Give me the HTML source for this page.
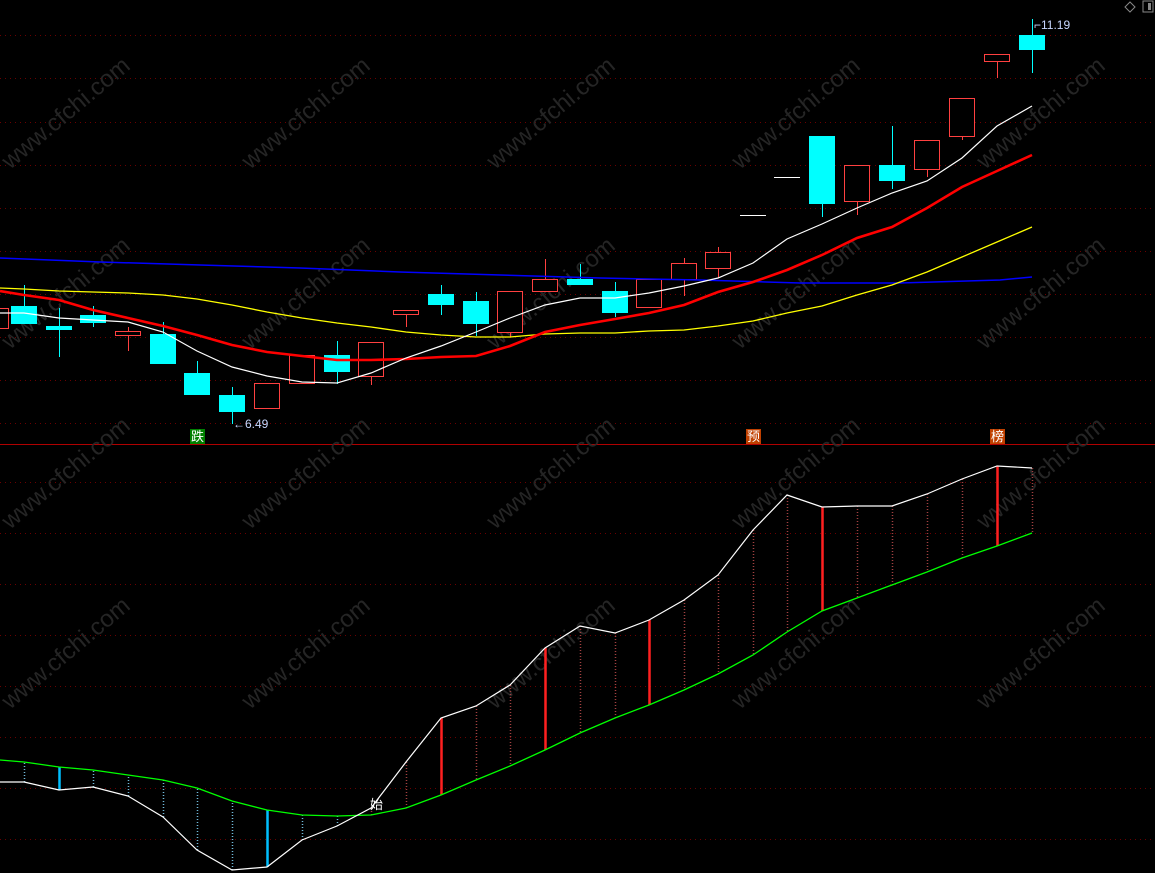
<!DOCTYPE html>
<html><head><meta charset="utf-8"><style>
html,body{margin:0;padding:0;background:#000;width:1155px;height:873px;overflow:hidden}
svg{display:block}
text{font-family:"Liberation Sans","Noto Sans CJK SC",sans-serif}
</style></head><body>
<svg id="s" width="1155" height="873" viewBox="0 0 1155 873" xmlns="http://www.w3.org/2000/svg">
<g id="grid"></g>
<g fill="#2a2a2a" font-size="24" opacity="0.9">
<text transform="translate(10,170) rotate(-40)">www.cfchi.com</text>
<text transform="translate(250,170) rotate(-40)">www.cfchi.com</text>
<text transform="translate(495,170) rotate(-40)">www.cfchi.com</text>
<text transform="translate(740,170) rotate(-40)">www.cfchi.com</text>
<text transform="translate(985,170) rotate(-40)">www.cfchi.com</text>
<text transform="translate(10,350) rotate(-40)">www.cfchi.com</text>
<text transform="translate(250,350) rotate(-40)">www.cfchi.com</text>
<text transform="translate(495,350) rotate(-40)">www.cfchi.com</text>
<text transform="translate(740,350) rotate(-40)">www.cfchi.com</text>
<text transform="translate(985,350) rotate(-40)">www.cfchi.com</text>
<text transform="translate(10,530) rotate(-40)">www.cfchi.com</text>
<text transform="translate(250,530) rotate(-40)">www.cfchi.com</text>
<text transform="translate(495,530) rotate(-40)">www.cfchi.com</text>
<text transform="translate(740,530) rotate(-40)">www.cfchi.com</text>
<text transform="translate(985,530) rotate(-40)">www.cfchi.com</text>
<text transform="translate(10,710) rotate(-40)">www.cfchi.com</text>
<text transform="translate(250,710) rotate(-40)">www.cfchi.com</text>
<text transform="translate(495,710) rotate(-40)">www.cfchi.com</text>
<text transform="translate(740,710) rotate(-40)">www.cfchi.com</text>
<text transform="translate(985,710) rotate(-40)">www.cfchi.com</text>
</g>
<g id="main"></g>
<rect x="190" y="429" width="15" height="15" fill="#008000"/>
<text x="197.5" y="441" fill="#fff" font-size="13" text-anchor="middle">跌</text>
<rect x="746" y="429" width="15" height="15" fill="#c04000"/>
<text x="753.5" y="441" fill="#fff" font-size="13" text-anchor="middle">预</text>
<rect x="990" y="429" width="15" height="15" fill="#c04000"/>
<text x="997.5" y="441" fill="#fff" font-size="13" text-anchor="middle">榜</text>
<text x="370" y="809" fill="#fff" font-size="13">始</text>
<text x="233" y="428" fill="#c8d8ff" font-size="12">←6.49</text>
<text x="1034" y="29" fill="#c8d8ff" font-size="12">⌐11.19</text>
<path d="M1130 2 L1135 7 L1130 12 L1125 7Z" fill="none" stroke="#888"/>
<rect x="1143" y="1" width="10" height="11" fill="none" stroke="#888"/>
<rect x="1148" y="3" width="3" height="7" fill="#888"/>
</svg>
<script>
var NS="http://www.w3.org/2000/svg";
function el(p,t,a){var e=document.createElementNS(NS,t);for(var k in a)e.setAttribute(k,a[k]);p.appendChild(e);return e;}
var g=document.getElementById('grid'),m=document.getElementById('main');
[35,78,122,165,208,251,294,337,380,423,482,533,584,635,686,737,788,839].forEach(function(y){
el(g,'line',{x1:0,x2:1155,y1:y+.5,y2:y+.5,stroke:'#6a0000','stroke-dasharray':'1,4'});});
el(g,'line',{x1:0,x2:1155,y1:444.5,y2:444.5,stroke:'#b00000'});
// candles [cx, type(c=cyan,r=red,w=doji), top, bottom, wickTop, wickBot]
var C=[[-4,'r',308,328,308,328],[24,'c',306,324,285,306],[59,'c',326,330,308,357],[93,'c',315,323,306,327],[128,'r',331,335,327,351],
[163,'c',334,364,322,364],[197,'c',373,395,361,395],[232,'c',395,412,387,424],[267,'r',383,408,383,408],[302,'r',355,383,355,383],
[337,'c',355,372,341,384],[371,'r',342,376,342,385],[406,'r',310,314,310,327],[441,'c',294,305,285,315],[476,'c',301,324,292,336],
[510,'r',291,332,291,337],[545,'r',279,291,259,291],[580,'c',279,285,264,285],[615,'c',291,313,282,317],[649,'r',279,307,279,307],
[684,'r',263,279,258,296],[718,'r',252,268,247,278],[753,'w',215,215,215,215],[787,'w',177,177,177,177],[822,'c',136,204,136,217],
[857,'r',165,201,165,215],[892,'c',165,181,126,189],[927,'r',140,169,140,177],[962,'r',98,136,98,140],[997,'r',54,61,54,78],[1032,'c',35,50,19,73]];
C.forEach(function(c){var x=c[0],w=13;
if(c[1]=='c'){el(m,'line',{x1:x+.5,x2:x+.5,y1:c[4],y2:c[5],stroke:'#0ff'});el(m,'rect',{x:x-w,y:c[2],width:2*w,height:Math.max(c[3]-c[2],2),fill:'#0ff'});}
else if(c[1]=='r'){el(m,'line',{x1:x+.5,x2:x+.5,y1:c[4],y2:c[5],stroke:'#ff4040'});el(m,'rect',{x:x-w+.5,y:c[2]+.5,width:2*w-1,height:c[3]-c[2],fill:'#000',stroke:'#ff4040'});}
else el(m,'line',{x1:x-w,x2:x+w,y1:c[2]+.5,y2:c[2]+.5,stroke:'#fff'});});
var xs=[0,24,59,93,128,163,197,232,267,302,337,371,406,441,476,510,545,580,615,649,684,718,753,787,822,857,892,927,962,997,1032];
function pl(ys,col,w){el(m,'polyline',{points:xs.map(function(x,i){return x+','+ys[i]}).join(' '),fill:'none',stroke:col,'stroke-width':w});}
el(m,'polyline',{points:'0,258 100,262 200,265 300,268 400,272 500,275 600,278 700,280 800,283 900,283 1000,280 1032,277',fill:'none',stroke:'#0000ff','stroke-width':1.5});
pl([288,289,291,292,293,295,299,305,312,318,323,327,332,335,337,337,334,333,333,331,330,326,321,313,306,295,285,272,257,242,227],'#ffff00',1.3);
pl([291,295,300,310,318,326,335,345,352,356,360,360,359,357,356,346,332,325,319,313,305,292,282,270,255,238,227,208,187,171,155],'#ff0000',2.6);
pl([313,313,318,320,322,332,351,367,376,382,383,373,358,346,332,318,305,298,298,293,286,278,263,239,224,208,193,181,158,126,106],'#ffffff',1.2);
var W=[782,782,790,787,796,817,850,870,867,840,826,808,762,718,706,685,648,626,633,620,600,575,530,495,507,506,506,494,479,466,468];
var G=[760,762,767,770,775,780,788,801,810,815,816,815,808,795,780,766,750,733,718,705,690,674,655,632,611,598,585,572,558,546,533];
var solid={59:1,267:1,441:1,545:1,649:1,822:1,997:1};
xs.forEach(function(x,i){if(i==0)return;var col=x<360?'#00bfff':'#ff2020';
var sw=solid[x]?2.5:1.5;var da=solid[x]?'none':'1,2';var co=solid[x]?col:(x<360?'#6fb8d8':'#a04040');
el(m,'line',{x1:x+.5,x2:x+.5,y1:W[i],y2:G[i],stroke:co,'stroke-width':sw,'stroke-dasharray':da});});
el(m,'polyline',{points:xs.map(function(x,i){return x+','+G[i]}).join(' '),fill:'none',stroke:'#00ff00','stroke-width':1.3});
el(m,'polyline',{points:xs.map(function(x,i){return x+','+W[i]}).join(' '),fill:'none',stroke:'#ffffff','stroke-width':1.2});
</script>
</body></html>
